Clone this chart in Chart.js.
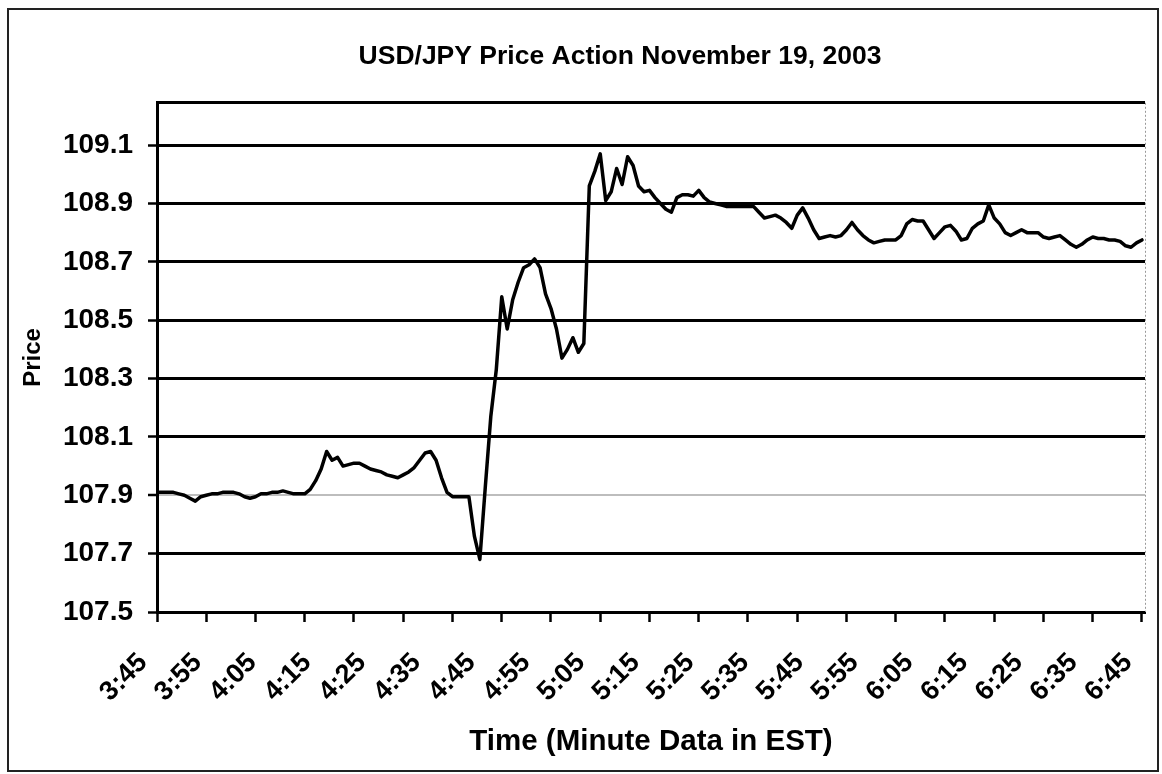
<!DOCTYPE html>
<html>
<head>
<meta charset="utf-8">
<title>USD/JPY Price Action November 19, 2003</title>
<script src="https://cdn.jsdelivr.net/npm/chart.js@4/dist/chart.umd.min.js"></script>
<style>
  html, body { margin: 0; padding: 0; background: #fff; }
  #wrap { position: relative; width: 1162px; height: 774px; overflow: hidden; }
  #frame { position: absolute; left: 7px; top: 8px; width: 1148px; height: 760px; border: 2px solid #222; }
  #c { position: absolute; left: 0; top: 0; }
</style>
</head>
<body>
<div id="wrap">
  <div id="frame"></div>
  <canvas id="c" width="1162" height="774"></canvas>
</div>
<script>
// Minute-by-minute USD/JPY, 3:45 to 6:45 EST
const timeLabels = ['3:45','3:55','4:05','4:15','4:25','4:35','4:45','4:55','5:05','5:15',
                    '5:25','5:35','5:45','5:55','6:05','6:15','6:25','6:35','6:45'];

const prices = [
  107.91,107.91,107.91,107.91,107.905,107.90,107.89,107.88,107.895,107.90,
  107.905,107.905,107.91,107.91,107.91,107.905,107.895,107.89,107.895,107.905,
  107.905,107.91,107.91,107.915,107.91,107.905,107.905,107.905,107.92,107.95,
  107.99,108.05,108.02,108.03,108.00,108.005,108.01,108.01,108.00,107.99,
  107.985,107.98,107.97,107.965,107.96,107.97,107.98,107.995,108.02,108.045,
  108.05,108.02,107.96,107.91,107.895,107.895,107.895,107.895,107.76,107.68,
  107.93,108.17,108.33,108.58,108.47,108.57,108.63,108.68,108.69,108.71,
  108.68,108.59,108.54,108.47,108.37,108.40,108.44,108.39,108.42,108.96,
  109.01,109.07,108.91,108.94,109.02,108.965,109.06,109.03,108.96,108.94,
  108.945,108.92,108.90,108.88,108.87,108.92,108.93,108.93,108.925,108.945,
  108.92,108.905,108.90,108.895,108.89,108.89,108.89,108.89,108.89,108.89,
  108.87,108.85,108.855,108.86,108.85,108.835,108.815,108.86,108.885,108.85,
  108.81,108.78,108.785,108.79,108.785,108.79,108.81,108.835,108.81,108.79,
  108.775,108.765,108.77,108.775,108.775,108.775,108.79,108.83,108.845,108.84,
  108.84,108.81,108.78,108.80,108.82,108.825,108.805,108.775,108.78,108.815,
  108.83,108.84,108.895,108.85,108.83,108.80,108.79,108.80,108.81,108.80,
  108.80,108.80,108.785,108.78,108.785,108.79,108.775,108.76,108.75,108.76,
  108.775,108.785,108.78,108.78,108.775,108.775,108.77,108.755,108.75,108.765,108.775
];

const priceTicks = [107.5, 107.7, 107.9, 108.1, 108.3, 108.5, 108.7, 108.9, 109.1];
const priceTickLabels = ['107.5','107.7','107.9','108.1','108.3','108.5','108.7','108.9','109.1'];

const labelStep = 10;   // minutes between time labels
const markStep = 9;     // minutes between axis tick marks
const lastMinute = prices.length - 1;

const FAMILY = '"Liberation Sans", Arial, Helvetica, sans-serif';

const points = prices.map((p, i) => ({ x: i, y: p }));

// Title is centred over the span from the price labels to the right edge
const TITLE_LEFT = 95;

const chartDecor = {
  id: 'chartDecor',
  afterLayout(chart) {
    if (chart.titleBlock) chart.titleBlock.left = TITLE_LEFT;
  },
  // thin dotted right edge of the plot area
  afterDraw(chart) {
    const { ctx, chartArea: a } = chart;
    ctx.save();
    ctx.strokeStyle = '#999';
    ctx.lineWidth = 1;
    ctx.setLineDash([2, 2]);
    ctx.beginPath();
    ctx.moveTo(a.right + 0.5, a.top);
    ctx.lineTo(a.right + 0.5, a.bottom);
    ctx.stroke();
    ctx.restore();
  }
};

new Chart(document.getElementById('c'), {
  type: 'line',
  data: {
    datasets: [{
      data: points,
      borderColor: '#000',
      borderWidth: 3.5,
      pointRadius: 0,
      tension: 0,
      borderJoinStyle: 'round',
      borderCapStyle: 'round',
      fill: false
    }]
  },
  options: {
    responsive: false,
    animation: false,
    devicePixelRatio: 1,
    layout: { padding: { left: 0, right: 17, top: 0, bottom: 0 } },
    plugins: {
      legend: { display: false },
      tooltip: { enabled: false },
      title: {
        display: true,
        text: 'USD/JPY Price Action November 19, 2003',
        color: '#000',
        font: { family: FAMILY, size: 26.5, weight: 'bold' },
        padding: { top: 41, bottom: 30 }
      }
    },
    scales: {
      x: {
        type: 'linear',
        min: 0,
        max: lastMinute + 0.55,
        afterBuildTicks(scale) {
          const vals = new Set();
          for (let m = 0; m <= lastMinute; m += markStep) vals.add(m);
          for (let m = 0; m <= lastMinute; m += labelStep) vals.add(m);
          scale.ticks = [...vals].sort((a, b) => a - b).map(v => ({ value: v }));
        },
        afterFit(scale) {
          scale.height = 162;
          scale.paddingLeft = 0;
          scale.paddingRight = 0;
        },
        grid: {
          drawOnChartArea: false,
          drawTicks: true,
          tickLength: 10,
          tickWidth: 2.5,
          tickColor: ctx => (ctx.tick && ctx.tick.value % markStep === 0) ? '#000' : 'rgba(0,0,0,0)'
        },
        border: { display: true, color: '#000', width: 3 },
        ticks: {
          autoSkip: false,
          maxRotation: 45,
          minRotation: 45,
          padding: 25,
          labelOffset: -14,
          color: '#000',
          font: { family: FAMILY, size: 27, weight: 'bold' },
          callback: v => (v % labelStep === 0) ? timeLabels[v / labelStep] : ''
        },
        title: {
          display: true,
          text: 'Time (Minute Data in EST)',
          color: '#000',
          font: { family: FAMILY, size: 29.5, weight: 'bold' },
          padding: { top: 0, bottom: 14 }
        }
      },
      y: {
        type: 'linear',
        min: 107.5,
        max: 109.245,
        afterBuildTicks(scale) {
          scale.ticks = priceTicks.map(v => ({ value: v })).concat([{ value: scale.max }]);
        },
        afterFit(scale) { scale.width = 157; },
        grid: {
          drawOnChartArea: true,
          drawTicks: true,
          tickLength: 9,
          tickWidth: 2.5,
          lineWidth: ctx => (ctx.tick && Math.abs(ctx.tick.value - 107.9) < 1e-6) ? 2 : 3,
          color: ctx => (ctx.tick && Math.abs(ctx.tick.value - 107.9) < 1e-6) ? '#bdbdbd' : '#000',
          tickColor: ctx => (ctx.tick && ctx.index < priceTicks.length) ? '#000' : 'rgba(0,0,0,0)'
        },
        border: { display: true, color: '#000', width: 3 },
        ticks: {
          padding: 15,
          color: '#000',
          font: { family: FAMILY, size: 28, weight: 'bold' },
          callback: (v, i) => i < priceTickLabels.length ? priceTickLabels[i] : ''
        },
        title: {
          display: true,
          text: 'Price',
          color: '#000',
          font: { family: FAMILY, size: 24, weight: 'bold' },
          padding: { top: 18.6, bottom: 0 }
        }
      }
    }
  },
  plugins: [chartDecor]
});
</script>
</body>
</html>
